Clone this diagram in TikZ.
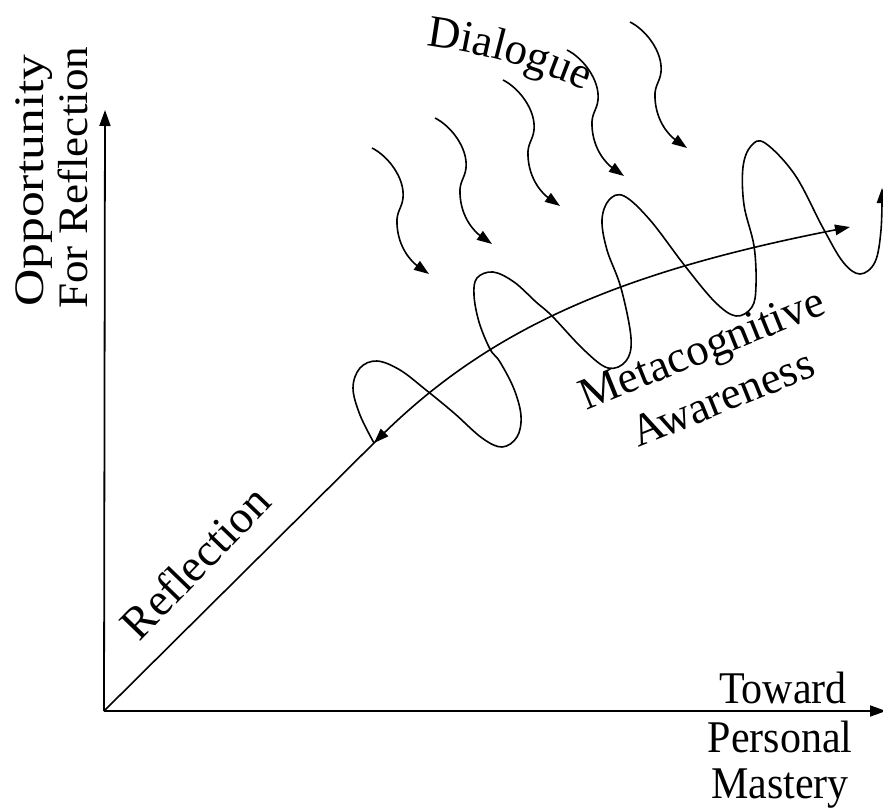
\documentclass[tikz,border=0pt]{standalone}
\usepackage{fontspec}
\setmainfont{Liberation Serif}
\usetikzlibrary{arrows.meta,decorations.text}
\newcommand\dlgfont{\fontsize{45}{48}\selectfont}
\newcommand\tall[1]{\scalebox{1}[1.08]{#1}}
\begin{document}
\begin{tikzpicture}[x=1pt,y=-1pt,
  lbl/.style={font=\fontsize{42}{46}\selectfont, inner sep=0pt},
  axis/.style={line width=1.8pt, -{Triangle[length=16pt,width=11pt]}},
  curve/.style={line width=1.6pt},
  tipped/.style={curve, -{Triangle[length=15pt,width=10.5pt]}},
  squiggle/.pic={\draw[tipped] (0,0) .. controls (16,8) and (33,30) .. (31,50)
      .. controls (30,60) and (24,64) .. (25,76)
      .. controls (26,100) and (40,114) .. (57,126);}
]
\useasboundingbox (0,0) rectangle (883,810);

% axes
\coordinate (O) at (104,711);
\coordinate (ytop) at (105,110);
\coordinate (xend) at (886,711);
\draw[axis] (O) -- (ytop);
\draw[axis] (O) -- (xend);

% reflection curve bending toward mastery
\coordinate (bend) at (380,437);
\coordinate (mend) at (850,227);
\draw[tipped] (O) -- (bend) .. controls (490,328) and (620,272) .. (mend);

% metacognitive spiral wound round the curve
\coordinate (spA) at (382,435);
\coordinate (spB) at (374,443);
\draw[tipped] (spA) -- (spB);
\draw[tipped] plot[smooth, tension=0.6] coordinates {
  (374,443) (360,415) (353,388) (360,368) (377,361) (400,370) (426,390)
  (454,413) (482,438) (502,447) (517,437) (521,416) (514,389) (500,362)
  (490,349) (479,322) (474,295) (477,278) (493,272) (514,282) (536,302)
  (552,316) (584,350) (608,368) (626,361) (631,338) (621,288) (607,250)
  (602,220) (609,200) (624,196) (650,220) (685,266) (715,302) (736,316)
  (752,307) (756,285) (754,246) (744,205) (743,167) (751,146) (765,143)
  (795,175) (823,228) (843,262) (860,274) (875,262) (881,230) (882,188)};

% dialogue arrows
\coordinate (d1) at (372,148);
\coordinate (d2) at (435,118);
\coordinate (d3) at (503,80);
\coordinate (d4) at (567,50);
\coordinate (d5) at (630,22);
\foreach \d in {d1,d2,d3,d4,d5} \pic at (\d) {squiggle};

% labels
\node[lbl, rotate=90, anchor=base west] (yl1) at (43,307) {\scalebox{1.23}[1]{Opportunity}};
\node[lbl, rotate=90, anchor=base west] (yl2) at (87,309) {\scalebox{1.075}[1]{For Reflection}};
\node[lbl, rotate=46, font=\fontsize{46}{50}\selectfont] (refl) at (195,562) {Reflection};
\node[lbl, rotate=22, align=center, font=\fontsize{45}{54}\selectfont] (meta) at (712,373) {Metacognitive\\Awareness};
\node[lbl, anchor=base] (tw) at (783,703) {\tall{Toward}};
\node[lbl, anchor=base] (pm) at (780,752) {\tall{Personal}};
\node[lbl, anchor=base] (ms) at (780,798) {\tall{Mastery}};

\coordinate (dA) at (418,45);
\coordinate (dB) at (592,94);
\path[decorate, decoration={text along path, text={|\dlgfont|Dialogue}, text align=center}]
  (dA) .. controls (474,51) and (536,67) .. (dB);
\end{tikzpicture}
\end{document}
